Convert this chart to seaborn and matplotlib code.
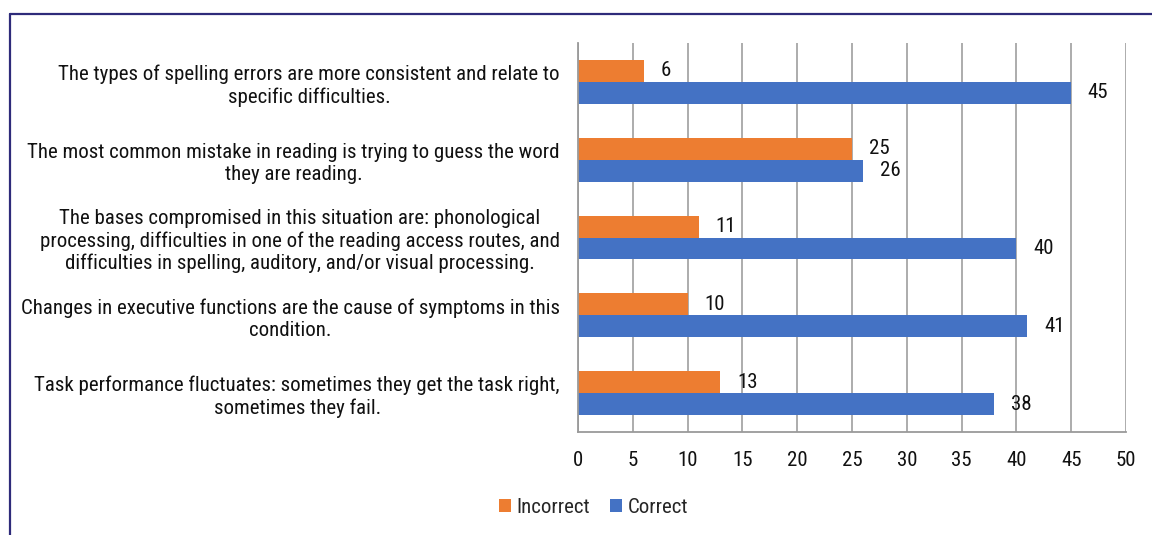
import matplotlib
matplotlib.use("Agg")
import matplotlib.pyplot as plt
from matplotlib import font_manager as fm
import seaborn as sns
import pandas as pd
import numpy as np
from matplotlib.lines import Line2D

categories = [
    "The types of spelling errors are more consistent and relate to\nspecific difficulties.",
    "The most common mistake in reading is trying to guess the word\nthey are reading.",
    "The bases compromised in this situation are: phonological\nprocessing, difficulties in one of the reading access routes, and\ndifficulties in spelling, auditory, and/or visual processing.",
    "Changes in executive functions are the cause of symptoms in this\ncondition.",
    "Task performance fluctuates: sometimes they get the task right,\nsometimes they fail.",
]
incorrect = [6, 25, 11, 10, 13]
correct = [45, 26, 40, 41, 38]
series = ["Incorrect", "Correct"]
xticks = [0, 5, 10, 15, 20, 25, 30, 35, 40, 45, 50]

df = pd.DataFrame({
    "cat": categories * 2,
    "value": incorrect + correct,
    "series": [series[0]] * len(categories) + [series[1]] * len(categories),
})

sns.set_theme(style="white")

names = {f.name for f in fm.fontManager.ttflist}
dejavu_cond = any(f.name == "DejaVu Sans" and "condensed" in str(f.stretch) for f in fm.fontManager.ttflist)
if "Liberation Sans Narrow" in names:
    plt.rcParams["font.family"] = ["Liberation Sans Narrow", "DejaVu Sans"]
    FS = 15
elif "Roboto Condensed" in names:
    plt.rcParams["font.family"] = ["Roboto Condensed", "DejaVu Sans"]
    FS = 15
elif dejavu_cond:
    plt.rcParams["font.family"] = ["DejaVu Sans"]
    plt.rcParams["font.stretch"] = "condensed"
    FS = 13
else:
    plt.rcParams["font.family"] = ["Roboto", "DejaVu Sans"]
    FS = 13

fig = plt.figure(figsize=(11.52, 5.35), dpi=100)
ax = fig.add_axes([0.5017, 0.1925, 0.9774 - 0.5017, 0.9196 - 0.1925])

sns.barplot(data=df, y="cat", x="value", hue="series", hue_order=series,
            order=categories, orient="h", width=0.565,
            palette=["#ED7D31", "#4472C4"], linewidth=0, saturation=1,
            ax=ax)

ax.set_xlim(0, 50)
ax.set_ylim(len(categories) - 0.5, -0.5)
ax.set_xticks(xticks)
ax.set_xticklabels([str(t) for t in xticks], fontsize=FS, color="#111111")
ax.set_yticks(range(len(categories)))
ax.set_yticklabels(categories, fontsize=FS, color="#111111", multialignment="center", ha="right")
ax.set_yticks(np.arange(-0.5, len(categories)), minor=True)
ax.tick_params(axis="y", which="major", length=0, pad=13)
ax.tick_params(axis="y", which="minor", length=6, width=1.2, color="#9a9a9a", direction="out")
ax.tick_params(axis="x", which="major", length=6, width=1.2, color="#9a9a9a", direction="out", pad=8)
ax.set_xlabel("")
ax.set_ylabel("")
ax.grid(axis="x", color="#a6a6a6", linewidth=1.3)
ax.set_axisbelow(True)
for s in ["top", "right"]:
    ax.spines[s].set_visible(False)
for s in ["left", "bottom"]:
    ax.spines[s].set_color("#9a9a9a")
    ax.spines[s].set_linewidth(1.3)

for cont in ax.containers:
    ax.bar_label(cont, padding=12, fontsize=FS, color="#111111")

ax.legend(loc="center", bbox_to_anchor=(0.028, -0.193), ncol=2, frameon=False,
          fontsize=FS, handlelength=0.6, handleheight=0.6, handletextpad=0.25,
          columnspacing=0.95, bbox_transform=ax.transAxes)

fig.add_artist(Line2D([10 / 1152, 1], [1 - 14 / 535, 1 - 14 / 535], color="#2E2B7A", lw=1.6, transform=fig.transFigure))
fig.add_artist(Line2D([10 / 1152, 10 / 1152], [0, 1 - 14 / 535], color="#2E2B7A", lw=1.6, transform=fig.transFigure))

fig.savefig("out.png", dpi=100)
